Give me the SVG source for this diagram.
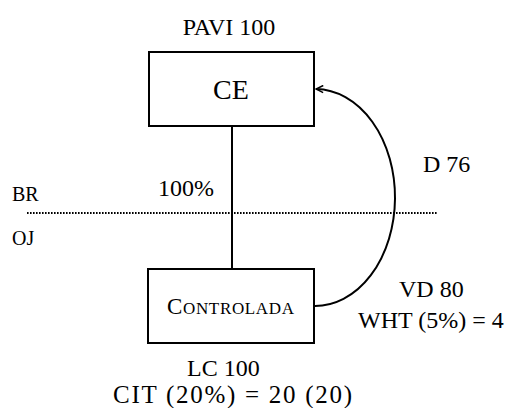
<svg xmlns="http://www.w3.org/2000/svg" width="510" height="408" viewBox="0 0 510 408" font-family="'Liberation Serif', 'Times New Roman', serif">
  <style>
    text { font-family: "Liberation Serif", "Times New Roman", serif; fill: #000; }
    .lbl { font-size: 24px; }
    .side { font-size: 20px; }
    .box { fill: #fff; stroke: #000; stroke-width: 2; }
    .line { fill: none; stroke: #000; stroke-width: 2; }
    .border { fill: none; stroke: #000; stroke-width: 2; stroke-dasharray: 1.6 1.4; }
  </style>
  <defs>
    <marker id="openArrow" viewBox="0 0 10 10" refX="9" refY="5" markerWidth="9" markerHeight="9" markerUnits="userSpaceOnUse" orient="auto">
      <polyline points="1,1 9,5 1,9" fill="none" stroke="#000" stroke-width="1.6"/>
    </marker>
  </defs>

  <!-- jurisdiction border -->
  <g id="border">
    <line class="border" x1="27" y1="213" x2="437" y2="213"/>
    <text class="side" x="12" y="201">BR</text>
    <text class="side" x="12" y="245">OJ</text>
  </g>

  <!-- connectors -->
  <g id="connectors">
    <line class="line" x1="232" y1="126" x2="232" y2="269"/>
    <path class="line" d="M314,306 A80,108.5 0 0 0 316,89" marker-end="url(#openArrow)"/>
    <text class="lbl" x="158" y="196">100%</text>
    <text class="lbl" x="423" y="172">D 76</text>
    <text class="lbl" x="399" y="297">VD 80</text>
    <text class="lbl" x="358" y="328">WHT (5%) = 4</text>
  </g>

  <!-- parent entity -->
  <g id="ce">
    <text class="lbl" x="229" y="35" text-anchor="middle">PAVI 100</text>
    <rect class="box" x="149" y="52" width="165" height="74"/>
    <text x="231" y="99" text-anchor="middle" font-size="28">CE</text>
  </g>

  <!-- controlled entity -->
  <g id="controlada">
    <rect class="box" x="148" y="269" width="166" height="74"/>
    <text x="167" y="314" font-size="23" textLength="127" lengthAdjust="spacing">C<tspan font-size="17">ONTROLADA</tspan></text>
    <text class="lbl" x="187" y="376">LC 100</text>
    <text x="113" y="403" font-size="25" textLength="239" lengthAdjust="spacing">CIT (20%) = 20 (20)</text>
  </g>
</svg>
